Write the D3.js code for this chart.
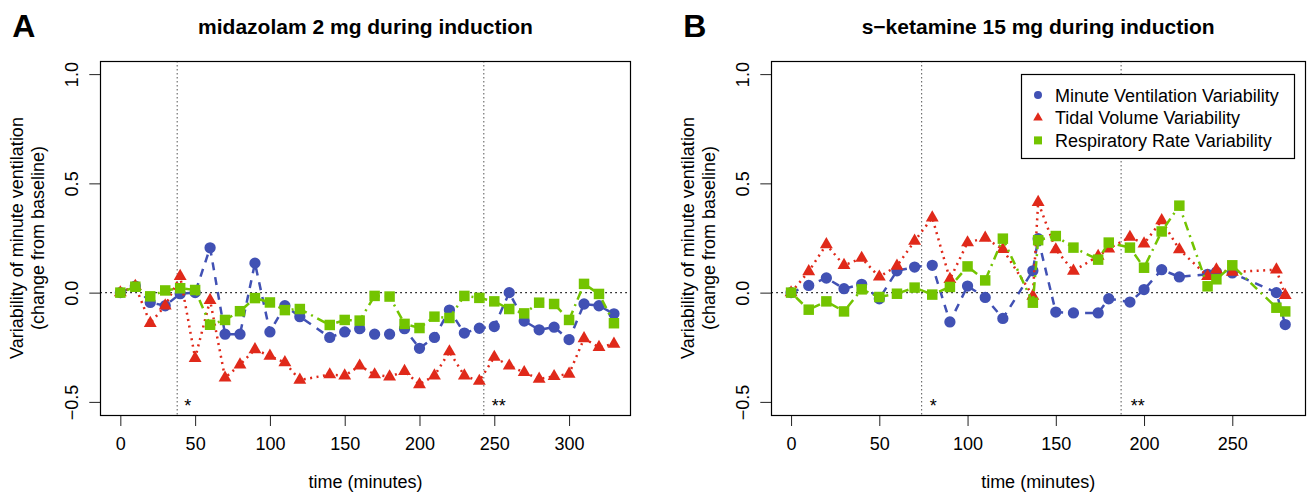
<!DOCTYPE html>
<html>
<head>
<meta charset="utf-8">
<script src="https://cdn.jsdelivr.net/npm/d3@7"></script>
<style>
  body { margin: 0; background: #fff; }
  svg { display: block; }
  text { font-family: "Liberation Sans", Arial, sans-serif; fill: #000; }
</style>
</head>
<body>
<div id="chart"></div>
<script>
// panel A: midazolam
const timeA = [0, 10, 20, 30, 40, 50, 60, 70, 80, 90, 100, 110, 120, 140, 150, 160, 170, 180, 190, 200,
               210, 220, 230, 240, 250, 260, 270, 280, 290, 300, 310, 320, 330];
const mvA = [0, 0.03, -0.045, -0.06, -0.005, 0.0, 0.205, -0.19, -0.19, 0.135, -0.18, -0.06, -0.11, -0.205,
             -0.18, -0.165, -0.19, -0.19, -0.165, -0.255, -0.205, -0.08, -0.185, -0.163, -0.155, 0.0,
             -0.13, -0.17, -0.158, -0.215, -0.052, -0.06, -0.097];
const tvA = [0, 0.03, -0.14, -0.06, 0.075, -0.30, -0.035, -0.39, -0.33, -0.26, -0.29, -0.32, -0.40, -0.375,
             -0.38, -0.335, -0.375, -0.385, -0.36, -0.42, -0.38, -0.27, -0.38, -0.405, -0.295, -0.335,
             -0.365, -0.395, -0.383, -0.372, -0.21, -0.25, -0.235];
const rrA = [0, 0.027, -0.017, 0.01, 0.02, 0.012, -0.147, -0.125, -0.085, -0.025, -0.045, -0.08, -0.075,
             -0.148, -0.125, -0.128, -0.015, -0.018, -0.143, -0.162, -0.11, -0.116, -0.015, -0.024, -0.04,
             -0.075, -0.095, -0.046, -0.052, -0.125, 0.04, -0.006, -0.14];

// panel B: s-ketamine
const timeB = [0, 10, 20, 30, 40, 50, 60, 70, 80, 90, 100, 110, 120, 137, 140, 150, 160, 174, 180, 192,
               200, 210, 220, 236, 241, 250, 275, 280];
const mvB = [0, 0.033, 0.067, 0.018, 0.038, -0.028, 0.1, 0.117, 0.125, -0.134, 0.03, -0.022, -0.118, 0.1,
             0.247, -0.089, -0.093, -0.093, -0.028, -0.043, 0.014, 0.105, 0.072, 0.084, 0.094, 0.09, 0.0, -0.146];
const tvB = [0, 0.097, 0.22, 0.125, 0.158, 0.072, 0.122, 0.236, 0.343, 0.061, 0.229, 0.25, 0.198, -0.015,
             0.414, 0.197, 0.099, 0.167, 0.201, 0.254, 0.224, 0.33, 0.197, 0.075, 0.105, 0.094, 0.105, -0.012];
const rrB = [0, -0.078, -0.04, -0.086, 0.015, -0.02, -0.005, 0.023, -0.009, 0.026, 0.12, 0.056, 0.247,
             -0.046, 0.24, 0.259, 0.206, 0.151, 0.229, 0.206, 0.114, 0.28, 0.398, 0.029, 0.061, 0.125,
             -0.069, -0.086];

const xTicksA = [0, 50, 100, 150, 200, 250, 300];
const xTicksB = [0, 50, 100, 150, 200, 250];
const yTicks = [-0.5, 0.0, 0.5, 1.0];

const vlinesA = [38, 243];
const vlinesB = [74, 187];
const starsA = [{ t: 45, label: "*" }, { t: 253, label: "**" }];
const starsB = [{ t: 80.5, label: "*" }, { t: 196.5, label: "**" }];

const seriesNames = ["Minute Ventilation Variability", "Tidal Volume Variability", "Respiratory Rate Variability"];

const W = 1307, H = 496;
const plotTop = 61, plotBottom = 415;

const styles = [
  { color: "#4151B4", sym: d3.symbolCircle, size: 100, legSize: 50, dash: "8,7" },
  { color: "#E0291A", sym: d3.symbolTriangle, size: 72, legSize: 40, dash: "2,4.5" },
  { color: "#73C400", sym: d3.symbolSquare, size: 110, legSize: 64, dash: "2,5,9,5" }
];

const svg = d3.select("#chart").append("svg")
    .attr("width", W)
    .attr("height", H);

function drawPanel(p) {
    const x = d3.scaleLinear().domain(p.xlim).range([p.left, p.right]);
    const y = d3.scaleLinear().domain([-0.56, 1.06]).range([plotBottom, plotTop]);
    const g = svg.append("g");

    // reference lines
    g.append("line")
        .attr("x1", p.left).attr("x2", p.right)
        .attr("y1", y(0)).attr("y2", y(0))
        .attr("stroke", "#000").attr("stroke-width", 1.4)
        .attr("stroke-dasharray", "1.5,3.5");

    g.selectAll(".vline").data(p.vlines).enter().append("line")
        .attr("x1", d => x(d)).attr("x2", d => x(d))
        .attr("y1", plotTop).attr("y2", plotBottom)
        .attr("stroke", "#555").attr("stroke-width", 1)
        .attr("stroke-dasharray", "1.5,2.5");

    g.selectAll(".star").data(p.stars).enter().append("text")
        .attr("x", d => x(d.t))
        .attr("y", y(-0.5) + 10.5)
        .attr("text-anchor", "middle")
        .style("font-size", "18px")
        .text(d => d.label);

    // series: lines then markers
    [p.mv, p.tv, p.rr].forEach((vals, i) => {
        const st = styles[i];
        const pts = vals.map((v, j) => [p.time[j], v]);
        const line = d3.line().x(d => x(d[0])).y(d => y(d[1]));
        g.append("path")
            .attr("d", line(pts))
            .attr("fill", "none")
            .attr("stroke", st.color)
            .attr("stroke-width", 2.5)
            .attr("stroke-dasharray", st.dash);
        g.selectAll(".m" + i).data(pts).enter().append("path")
            .attr("d", d3.symbol().type(st.sym).size(st.size))
            .attr("transform", d => `translate(${x(d[0])},${y(d[1])})`)
            .attr("fill", st.color);
    });

    // axes
    const xAxis = g.append("g")
        .attr("transform", `translate(0,${plotBottom})`)
        .call(d3.axisBottom(x).tickValues(p.xTicks).tickSize(11).tickSizeOuter(0));
    xAxis.select(".domain").remove();
    xAxis.attr("font-size", null).attr("font-family", null);
    xAxis.selectAll("line").attr("stroke", "#222");
    xAxis.selectAll("text").attr("y", 35).attr("dy", null).style("font-size", "18px");

    const yAxis = g.append("g")
        .attr("transform", `translate(${p.left},0)`)
        .call(d3.axisLeft(y).tickValues(yTicks).tickFormat(d3.format(".1f")).tickSize(11).tickSizeOuter(0));
    yAxis.select(".domain").remove();
    yAxis.attr("font-size", null).attr("font-family", null);
    yAxis.selectAll("line").attr("stroke", "#222");
    yAxis.selectAll("text")
        .attr("transform", "rotate(-90)")
        .attr("x", 0).attr("y", -22).attr("dy", null)
        .attr("text-anchor", "middle")
        .style("font-size", "18px");

    // box
    g.append("rect")
        .attr("x", Math.round(p.left) + 0.5).attr("y", plotTop + 0.5)
        .attr("width", Math.round(p.right - p.left)).attr("height", plotBottom - plotTop)
        .attr("fill", "none").attr("stroke", "#000").attr("stroke-width", 1.2);

    // labels
    const cx = (p.left + p.right) / 2, cy = (plotTop + plotBottom) / 2;
    g.append("text")
        .attr("x", cx).attr("y", 34)
        .attr("text-anchor", "middle")
        .style("font-size", "21px").style("font-weight", "bold")
        .text(p.title);
    g.append("text")
        .attr("x", p.left - 88).attr("y", 37)
        .style("font-size", "32px").style("font-weight", "bold")
        .text(p.letter);
    g.append("text")
        .attr("x", cx).attr("y", 488)
        .attr("text-anchor", "middle")
        .style("font-size", "18px")
        .text("time (minutes)");
    [["Variability of minute ventilation", -77], ["(change from baseline)", -56]].forEach(([t, off]) => {
        g.append("text")
            .attr("transform", `translate(${p.left + off},${cy}) rotate(-90)`)
            .attr("text-anchor", "middle")
            .style("font-size", "18px")
            .text(t);
    });

    return { x, y, g };
}

drawPanel({
    letter: "A", title: "midazolam 2 mg during induction",
    time: timeA, mv: mvA, tv: tvA, rr: rrA,
    xlim: [-13.4, 341.2], left: 100.3, right: 630.7,
    xTicks: xTicksA, vlines: vlinesA, stars: starsA
});

const pb = drawPanel({
    letter: "B", title: "s\u2212ketamine 15 mg during induction",
    time: timeB, mv: mvB, tv: tvB, rr: rrB,
    xlim: [-11.2, 291.2], left: 771.3, right: 1305,
    xTicks: xTicksB, vlines: vlinesB, stars: starsB
});

// legend in panel B
const leg = pb.g.append("g");
leg.append("rect")
    .attr("x", 1021.5).attr("y", 74.5)
    .attr("width", 273).attr("height", 84)
    .attr("fill", "#fff").attr("stroke", "#000").attr("stroke-width", 1.2);
const items = leg.selectAll(".item").data(seriesNames).enter().append("g")
    .attr("transform", (d, i) => `translate(1038,${95 + i * 22.7})`);
items.append("path")
    .attr("d", (d, i) => d3.symbol().type(styles[i].sym).size(styles[i].legSize)())
    .attr("fill", (d, i) => styles[i].color);
items.append("text")
    .attr("x", 17).attr("y", 6.5)
    .style("font-size", "18px")
    .text(d => d);
</script>
</body>
</html>
